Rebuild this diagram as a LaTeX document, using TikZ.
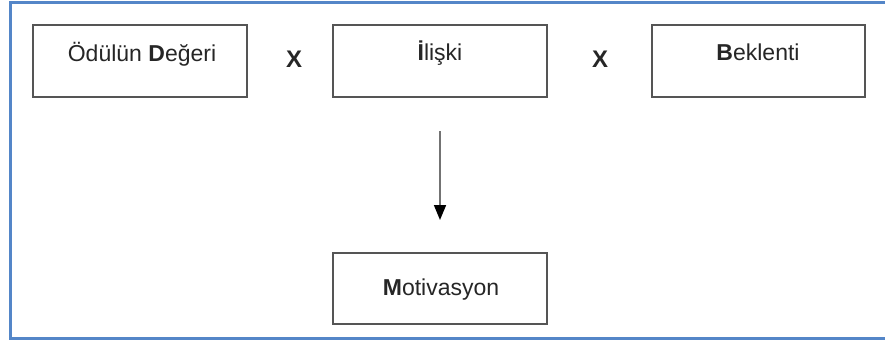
\documentclass[tikz,border=0pt]{standalone}
\usepackage{fontspec}
\setmainfont{Liberation Sans}
\usetikzlibrary{arrows.meta}
\definecolor{frameblue}{RGB}{84,134,200}
\definecolor{boxgray}{RGB}{85,85,85}
\begin{document}
\begin{tikzpicture}[x=1pt,y=-1pt,
  box/.style={draw=boxgray,line width=1.6pt,fill=white},
  lbl/.style={anchor=base,inner sep=0pt,font=\fontsize{23}{27}\selectfont,text=black!85},
  times/.style={anchor=center,inner sep=0pt,font=\fontsize{24}{28}\selectfont\bfseries,text=black!85},
  flow/.style={draw=black!55,line width=1.6pt,-{Triangle[length=15pt,width=12pt,color=black]}}]
\useasboundingbox (0,0) rectangle (885,345);
% outer frame, open on the right side
\draw[frameblue,line width=2.2pt] (900,2.5) -- (10.5,2.5) -- (10.5,338.5) -- (900,338.5);
% factor boxes
\draw[box] (33,25) rectangle (247,97);
\draw[box] (333,25) rectangle (547,97);
\draw[box] (652,25) rectangle (865,97);
\draw[box] (333,253) rectangle (547,324);
\node (a) at (142,61) [lbl] {Ödülün \textbf{D}eğeri};
\node (b) at (440,60) [lbl] {\textbf{İ}lişki};
\node (c) at (758,60) [lbl] {\textbf{B}eklenti};
\node (m) at (441,295) [lbl] {\textbf{M}otivasyon};
\node (x1) at (294,59) [times] {X};
\node (x2) at (600,59) [times] {X};
\coordinate (s) at (440,131);
\coordinate (e) at (440,220);
\draw[flow] (s) -- (e);
\end{tikzpicture}
\end{document}
